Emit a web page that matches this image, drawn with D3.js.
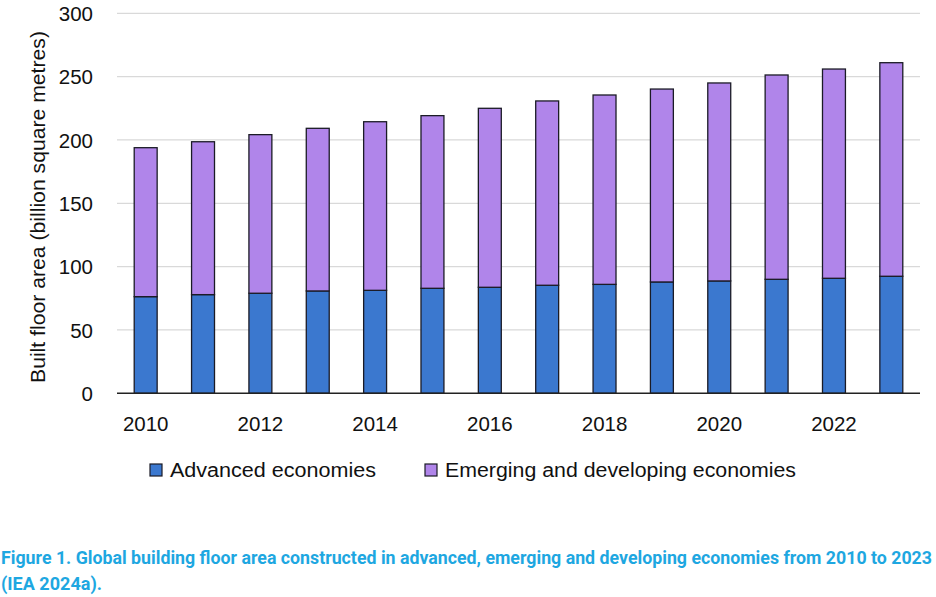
<!DOCTYPE html>
<html><head><meta charset="utf-8">
<script src="https://cdn.jsdelivr.net/npm/d3@7"></script>
<style>body{margin:0;background:#fff}svg{display:block}</style>
</head><body>
<svg id="c" width="936" height="597"></svg>
<script>
const years = [2010,2011,2012,2013,2014,2015,2016,2017,2018,2019,2020,2021,2022,2023];
const advanced = [76.3,77.9,79.0,80.8,81.3,82.9,83.7,85.3,86.0,87.9,88.7,90.0,90.8,92.4];
const totals = [193.9,198.6,204.2,209.2,214.4,219.2,225.0,230.8,235.5,240.2,245.0,251.3,256.0,261.0];
const emerging = totals.map((t,i)=>+(t-advanced[i]).toFixed(1));
const yTicks = [0,50,100,150,200,250,300];
const xTickYears = [2010,2012,2014,2016,2018,2020,2022];
const seriesNames = ["Advanced economies","Emerging and developing economies"];
const colors = ["#3b78cf","#b085ea"];

const svg = d3.select("#c");
const L=117,R=920,T=13.3,B=393.3;
const x = d3.scaleBand().domain(years).range([L,R]).paddingInner(0.6).paddingOuter(0.3);
const y = d3.scaleLinear().domain([0,300]).range([B,T]);

// grid
svg.append("g").selectAll("line").data(yTicks.filter(d=>d>0)).join("line")
  .attr("x1",L).attr("x2",R).attr("y1",d=>y(d)).attr("y2",d=>y(d))
  .attr("stroke","#d9d9d9").attr("stroke-width",1.3);

// y axis labels
const yAxis = d3.axisLeft(y).tickValues(yTicks).tickSize(0).tickPadding(0);
const yg = svg.append("g").attr("transform",`translate(93,0)`).call(yAxis);
yg.select(".domain").remove();
yg.selectAll("text").attr("font-family","Liberation Sans, Arial, sans-serif").attr("font-size",20.5).attr("fill","#111").attr("dy","0.35em");

// stacked data
const table = years.map((yr,i)=>({year:yr, adv:advanced[i], emg:emerging[i]}));
const stack = d3.stack().keys(["adv","emg"])(table);
svg.append("g").selectAll("g").data(stack).join("g")
  .attr("fill",(d,i)=>colors[i])
  .selectAll("rect").data(d=>d).join("rect")
  .attr("x",d=>x(d.data.year)).attr("width",x.bandwidth())
  .attr("y",d=>y(d[1])).attr("height",d=>y(d[0])-y(d[1]))
  .attr("stroke","#1b1b26").attr("stroke-width",1.3);

// baseline
svg.append("line").attr("x1",L).attr("x2",R).attr("y1",B).attr("y2",B).attr("stroke","#222").attr("stroke-width",1.5);

// x axis labels
const xAxis = d3.axisBottom(x).tickValues(xTickYears).tickSize(0).tickPadding(0);
const xg = svg.append("g").attr("transform",`translate(0,${B})`).call(xAxis);
xg.select(".domain").remove();
xg.selectAll("text").attr("font-family","Liberation Sans, Arial, sans-serif").attr("font-size",20.5).attr("fill","#111").attr("y",38).attr("dy",0);

// y title
svg.append("text").attr("transform","translate(45,207) rotate(-90)").attr("text-anchor","middle")
  .attr("font-family","Liberation Sans, Arial, sans-serif").attr("font-size",20.5).attr("fill","#111")
  .attr("textLength",352).attr("lengthAdjust","spacingAndGlyphs")
  .text("Built floor area (billion square metres)");

// legend
const leg = [{x:150,tx:170,w:206},{x:425,tx:445,w:351}];
seriesNames.forEach((n,i)=>{
  svg.append("rect").attr("x",leg[i].x).attr("y",464).attr("width",12).attr("height",12)
    .attr("fill",colors[i]).attr("stroke","#1b1b26").attr("stroke-width",1.2);
  svg.append("text").attr("x",leg[i].tx).attr("y",477).attr("font-family","Liberation Sans, Arial, sans-serif")
    .attr("font-size",20).attr("fill","#111").attr("textLength",leg[i].w).attr("lengthAdjust","spacingAndGlyphs").text(n);
});

// caption
const cap1 = "Figure 1. Global building floor area constructed in advanced, emerging and developing economies from 2010 to 2023";
svg.append("text").attr("x",1).attr("y",564).attr("font-family","Roboto, sans-serif").attr("font-weight","bold")
  .attr("font-size",17.5).attr("fill","#1ea7e1").attr("textLength",931).attr("lengthAdjust","spacingAndGlyphs").text(cap1);
svg.append("text").attr("x",1).attr("y",590).attr("font-family","Roboto, sans-serif").attr("font-weight","bold")
  .attr("font-size",17.5).attr("fill","#1ea7e1").attr("textLength",101).attr("lengthAdjust","spacingAndGlyphs").text("(IEA 2024a).");
</script>
</body></html>
